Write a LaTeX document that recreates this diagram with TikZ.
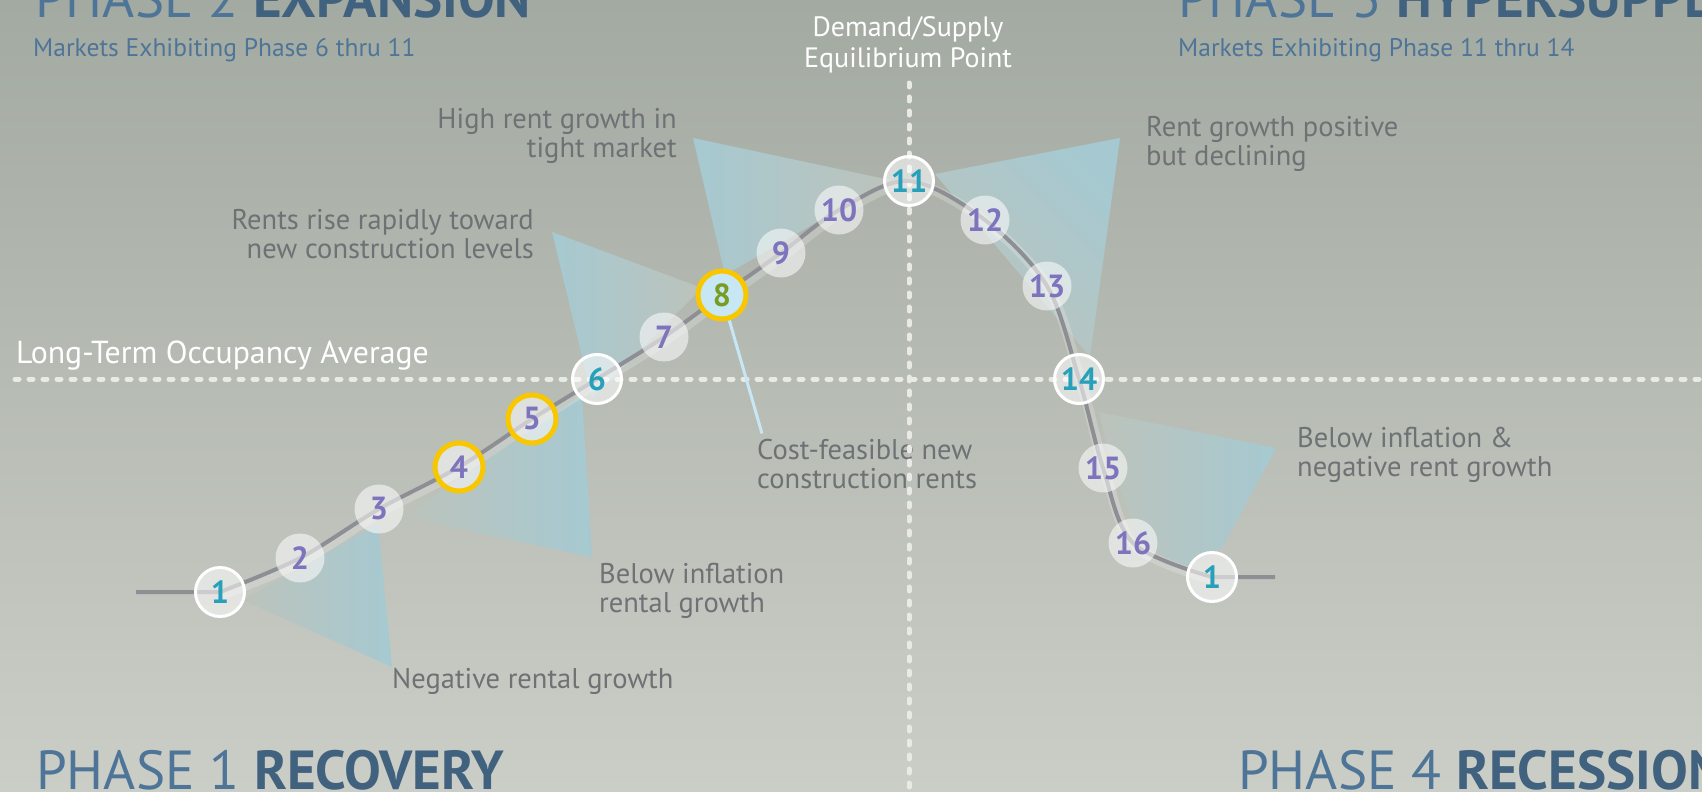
\documentclass[tikz,border=0pt]{standalone}
\usepackage{fontspec}
\setmainfont{PT Sans}
\usepackage{tikz}
\usetikzlibrary{positioning}

\definecolor{bgtop}{HTML}{A3AAA2}
\definecolor{bgbot}{HTML}{CBCEC7}
\definecolor{wedgeblue}{HTML}{A6C9D1}
\definecolor{wedgepale}{HTML}{BCC3BB}
\definecolor{numpurple}{HTML}{7E74BE}
\definecolor{numteal}{HTML}{27A0BA}
\definecolor{numgreen}{HTML}{789C24}
\definecolor{ringgold}{HTML}{F8C700}
\definecolor{notegrey}{HTML}{6E7275}
\definecolor{phaseblue}{HTML}{4E7597}
\definecolor{phasedark}{HTML}{41627F}
\definecolor{curvegrey}{HTML}{8E8E95}
\definecolor{dashwhite}{HTML}{E9EAE6}
\definecolor{costblue}{HTML}{C7E7F5}

\begin{document}
\begin{tikzpicture}[x=1pt, y=-1pt,
    stage/.style={circle, minimum size=49pt, inner sep=0pt, fill=white,
        fill opacity=0.55, text opacity=1, text=numpurple,
        font=\fontsize{32}{32}\selectfont\bfseries},
    keystage/.style={stage, draw=white, line width=3pt, text=numteal},
    goldstage/.style={stage, draw=ringgold, line width=5pt, minimum size=48pt},
    note/.style={inner sep=0pt, text=notegrey, font=\fontsize{28.5}{29}\selectfont},
    phase/.style={inner sep=0pt, anchor=base west, text=phaseblue,
        font=\fontsize{55}{55}\selectfont},
    markets/.style={inner sep=0pt, anchor=base west, text=phaseblue,
        font=\fontsize{25.5}{25.5}\selectfont},
    avgline/.style={dashwhite, line width=5pt, line cap=round,
        dash pattern=on 4pt off 10pt},
    cycleline/.style={curvegrey, line width=4pt},
    costline/.style={costblue, line width=3pt}]

    \path [use as bounding box, clip] (0,0) rectangle (1702,792);
    \shade [top color=bgtop, bottom color=bgbot] (0,0) rectangle (1702,792);

    % Wedges
    \shade [left color=wedgepale, right color=wedgeblue] (243,600) -- (378,524) -- (392,667) -- cycle;
    \shade [left color=wedgepale, right color=wedgeblue] (403,517) -- (582,395) -- (592,557) -- cycle;
    \shade [left color=wedgeblue, right color=wedgepale] (552,232) -- (702,288) -- (592,398) -- cycle;
    \shade [left color=wedgeblue, right color=wedgepale] (693,138) -- (890,180) -- (725,275) -- cycle;
    \shade [top color=wedgeblue, bottom color=wedgepale, shading angle=-45] (935,174) -- (1120,138) -- (1090,357) -- cycle;
    \shade [left color=wedgepale, right color=wedgeblue] (1099,412) -- (1276,448) -- (1222,548) -- (1182,568) -- (1140,540) -- (1112,470) -- cycle;

    % Titles
    \node [phase]   (ph2) at (35,18)    {PHASE 2 \textcolor{phasedark}{\bfseries EXPANSION}};
    \node [markets] (mk2) at (33,57)    {Markets Exhibiting Phase 6 thru 11};
    \node [phase]   (ph3) at (1178,18)  {PHASE 3 \textcolor{phasedark}{\bfseries HYPERSUPPLY}};
    \node [markets] (mk3) at (1178,57)  {Markets Exhibiting Phase 11 thru 14};
    \node [phase]   (ph1) at (36,789)   {PHASE 1 \textcolor{phasedark}{\bfseries RECOVERY}};
    \node [phase]   (ph4) at (1238,789) {PHASE 4 \textcolor{phasedark}{\bfseries RECESSION}};

    % Notes (placed at the baseline of their last line)
    \node [note, anchor=base east, align=right] (tight)    at (677,157)  {High rent growth in\\tight market};
    \node [note, anchor=base east, align=right] (rise)     at (534,258)  {Rents rise rapidly toward\\new construction levels};
    \node [note, anchor=base west, align=left]  (decline)  at (1146,165) {Rent growth positive\\but declining};
    \node [note, anchor=base west, align=left]  (negrent)  at (1297,476) {Below inflation \&\\negative rent growth};
    \node [note, anchor=base west, align=left]  (cost)     at (757,488)  {Cost-feasible new\\construction rents};
    \node [note, anchor=base west, align=left]  (belowinf) at (599,612)  {Below inflation\\rental growth};
    \node [note, anchor=base west]              (negative) at (392,688)  {Negative rental growth};
    \node [anchor=base west, inner sep=0pt, white, font=\fontsize{31.8}{31.8}\selectfont]
        (average) at (16,363) {Long-Term Occupancy Average};
    \node [anchor=base, align=center, inner sep=0pt, white, font=\fontsize{28}{31}\selectfont]
        (equil) at (908,67) {Demand/Supply\\Equilibrium Point};

    % Dashed axes
    \draw [avgline] (15,379) -- (1702,379);
    \draw [avgline] (909,83) -- (909,792);

    % Curve points
    \coordinate (c0)  at (136,592);
    \coordinate (c1)  at (220,592);
    \coordinate (c2)  at (300,558);
    \coordinate (c3)  at (379,509);
    \coordinate (c4)  at (459,467);
    \coordinate (c5)  at (532,419);
    \coordinate (c6)  at (597,379);
    \coordinate (c7)  at (664,337);
    \coordinate (c8)  at (722,295);
    \coordinate (c9)  at (781,253);
    \coordinate (c10) at (839,210);
    \coordinate (c11) at (909,181);
    \coordinate (c12) at (985,220);
    \coordinate (c13) at (1047,286);
    \coordinate (c14) at (1079,379);
    \coordinate (c15) at (1103,468);
    \coordinate (c16) at (1133,543);
    \coordinate (c17) at (1212,577);
    \coordinate (c18) at (1275,577);

    \draw [white, opacity=0.2, line width=10pt, transform canvas={shift={(2,3)}}]
        plot [smooth, tension=0.55] coordinates {(c1) (c2) (c3) (c4) (c5) (c6) (c7) (c8) (c9)
        (c10) (c11) (c12) (c13) (c14) (c15) (c16) (c17)};
    \draw [cycleline]
        (c0) -- plot [smooth, tension=0.55] coordinates {(c1) (c2) (c3) (c4) (c5) (c6) (c7) (c8) (c9)
        (c10) (c11) (c12) (c13) (c14) (c15) (c16) (c17)} -- (c18);

    % Stages {1, 2, ..., 16}
    \node [keystage]  (s1)  at (c1)  {1};
    \node [stage]     (s2)  at (c2)  {2};
    \node [stage]     (s3)  at (c3)  {3};
    \node [goldstage] (s4)  at (c4)  {4};
    \node [goldstage] (s5)  at (c5)  {5};
    \node [keystage]  (s6)  at (c6)  {6};
    \node [stage]     (s7)  at (c7)  {7};
    \node [goldstage, fill=costblue, fill opacity=1, text=numgreen]
                      (s8)  at (c8)  {8};
    \node [stage]     (s9)  at (c9)  {9};
    \node [stage]     (s10) at (c10) {10};
    \node [keystage]  (s11) at (c11) {11};
    \node [stage]     (s12) at (c12) {12};
    \node [stage]     (s13) at (c13) {13};
    \node [keystage]  (s14) at (c14) {14};
    \node [stage]     (s15) at (c15) {15};
    \node [stage]     (s16) at (c16) {16};
    \node [keystage]  (s17) at (c17) {1};

    % Cost line
    \path (s8) edge [costline] ([shift={(5,-5)}]cost.north west);

\end{tikzpicture}
\end{document}
